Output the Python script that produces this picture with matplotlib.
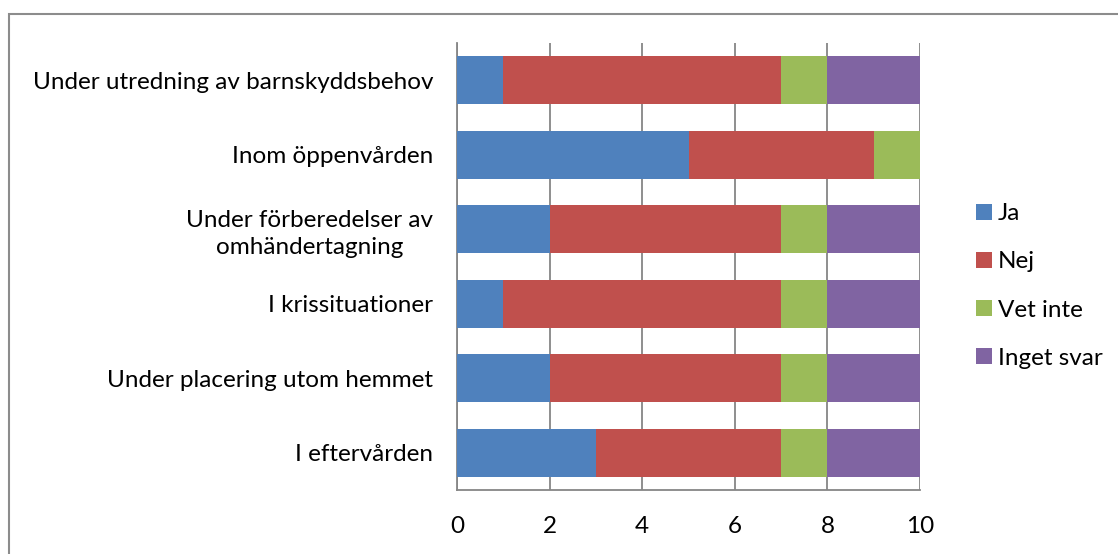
import numpy as np
import matplotlib
matplotlib.use("Agg")
import matplotlib.pyplot as plt
from matplotlib.patches import Rectangle

# Data
categories = [
    "Under utredning av barnskyddsbehov",
    "Inom öppenvården",
    "Under förberedelser av\nomhändertagning",
    "I krissituationer",
    "Under placering utom hemmet",
    "I eftervården",
]
series_names = ["Ja", "Nej", "Vet inte", "Inget svar"]
ja = [1, 5, 2, 1, 2, 3]
nej = [6, 4, 5, 6, 5, 4]
vet_inte = [1, 1, 1, 1, 1, 1]
inget_svar = [2, 0, 2, 2, 2, 2]
colors = ["#4F81BD", "#C0504D", "#9BBB59", "#8064A2"]
x_ticks = [0, 2, 4, 6, 8, 10]

plt.rcParams["font.family"] = ["Lato", "DejaVu Sans"]
GRID = "#868686"

fig = plt.figure(figsize=(11.18, 5.54), dpi=100)
ax = fig.add_axes([457 / 1118, 1 - 490 / 554, 463 / 1118, 447 / 554])

y = np.arange(len(categories))
left = np.zeros(len(categories))
for name, vals, c in zip(series_names, [ja, nej, vet_inte, inget_svar], colors):
    ax.barh(y, vals, left=left, height=0.64, color=c, label=name, zorder=3)
    left += np.array(vals)

ax.set_ylim(len(categories) - 0.5, -0.5)
ax.set_xlim(0, 10)
ax.set_xticks(x_ticks)
ax.set_yticks(y)
ax.set_yticklabels(categories, fontsize=17.5, linespacing=1.35)
ax.tick_params(axis="x", labelsize=17.5, length=0, pad=19)
ax.tick_params(axis="y", length=0, pad=17)
for lab in ax.get_yticklabels():
    lab.set_horizontalalignment("right")
    lab.set_multialignment("center")
ax.xaxis.grid(True, color=GRID, linewidth=1.3, zorder=0)
ax.set_axisbelow(True)
for s in ["top", "right"]:
    ax.spines[s].set_visible(False)
for s in ["left", "bottom"]:
    ax.spines[s].set_color(GRID)
    ax.spines[s].set_linewidth(1.3)

handles, labels = ax.get_legend_handles_labels()
leg = fig.legend(handles, labels, loc="center left",
                 bbox_to_anchor=(976 / 1118, 1 - 286 / 554),
                 frameon=False, fontsize=17.5, handlelength=0.65,
                 handleheight=0.65, handletextpad=0.25, labelspacing=1.12,
                 borderaxespad=0, borderpad=0)

# outer chart border
fig.patches.append(Rectangle((8.5 / 1118, -0.2), 2, 1 - 14 / 554 + 0.2,
                             transform=fig.transFigure, fill=False,
                             edgecolor="#8c8c8c", linewidth=1.5))

fig.savefig("out.png", dpi=100)
